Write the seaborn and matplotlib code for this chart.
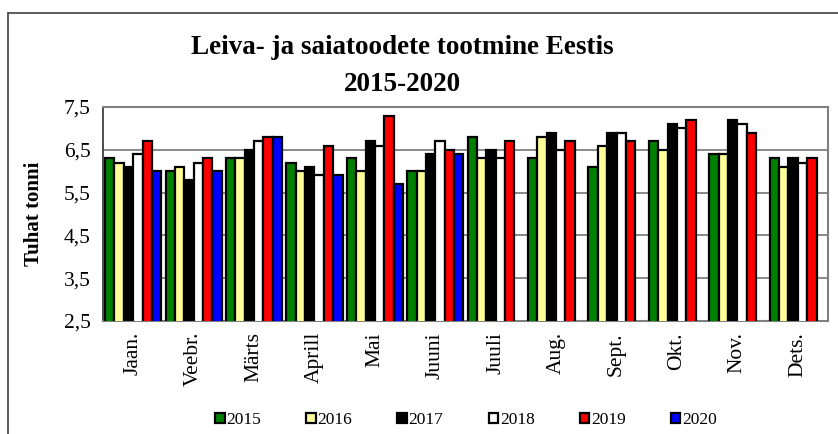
import matplotlib
matplotlib.use("Agg")
import matplotlib.pyplot as plt
from matplotlib.lines import Line2D
from matplotlib.ticker import FixedLocator, FuncFormatter
import numpy as np
import pandas as pd
import seaborn as sns

months = ["Jaan.", "Veebr.", "Märts", "Aprill", "Mai", "Juuni", "Juuli",
          "Aug.", "Sept.", "Okt.", "Nov.", "Dets."]
years = ["2015", "2016", "2017", "2018", "2019", "2020"]
v2015 = [6.3, 6.0, 6.3, 6.2, 6.3, 6.0, 6.8, 6.3, 6.1, 6.7, 6.4, 6.3]
v2016 = [6.2, 6.1, 6.3, 6.0, 6.0, 6.0, 6.3, 6.8, 6.6, 6.5, 6.4, 6.1]
v2017 = [6.1, 5.8, 6.5, 6.1, 6.7, 6.4, 6.5, 6.9, 6.9, 7.1, 7.2, 6.3]
v2018 = [6.4, 6.2, 6.7, 5.9, 6.6, 6.7, 6.3, 6.5, 6.9, 7.0, 7.1, 6.2]
v2019 = [6.7, 6.3, 6.8, 6.6, 7.3, 6.5, 6.7, 6.7, 6.7, 7.2, 6.9, 6.3]
v2020 = [6.0, 6.0, 6.8, 5.9, 5.7, 6.4, None, None, None, None, None, None]
colors = ["#008000", "#FFFF99", "#000000", "#FFFFFF", "#FF0000", "#0000FF"]

title = "Leiva- ja saiatoodete tootmine Eestis\n2015-2020"
ylabel = "Tuhat tonni"
yticks = [2.5, 3.5, 4.5, 5.5, 6.5, 7.5]

series = [v2015, v2016, v2017, v2018, v2019, v2020]
rows = []
for y, vals in zip(years, series):
    for m, v in zip(months, vals):
        rows.append({"month": m, "year": y, "value": np.nan if v is None else v})
df = pd.DataFrame(rows)

sns.set_style("white")
plt.rcParams["font.family"] = ["Liberation Serif", "DejaVu Serif"]
plt.rcParams["text.color"] = "black"
plt.rcParams["axes.labelcolor"] = "black"
plt.rcParams["xtick.color"] = "black"
plt.rcParams["ytick.color"] = "black"

fig = plt.figure(figsize=(8.38, 4.34), dpi=100)
ax = fig.add_axes([103/838, 1-321/434, (828-103)/838, (321-107)/434])

sns.barplot(data=df, x="month", y="value", hue="year", order=months,
            hue_order=years, palette=colors, edgecolor="black", linewidth=1.6,
            width=0.93, saturation=1, ax=ax, zorder=3)

ax.set_ylim(2.5, 7.5)
ax.set_xlim(-0.5, len(months) - 0.5)
ax.yaxis.set_major_locator(FixedLocator(yticks))
ax.yaxis.set_major_formatter(FuncFormatter(lambda v, p: f"{v:.1f}".replace(".", ",")))
ax.grid(axis="y", color="#808080", linewidth=1.3, zorder=0)
ax.set_axisbelow(True)

ax.set_xticks(range(len(months)))
ax.set_xticklabels(months, rotation=90, fontsize=15.5)
ax.tick_params(axis="x", which="major", length=0, pad=8)
ax.set_xticks(np.arange(-0.5, len(months)), minor=True)
ax.tick_params(axis="x", which="minor", length=5, width=1, color="black", direction="out")
ax.tick_params(axis="y", length=5, width=1, color="black", direction="out", labelsize=15.5, pad=4)

ax.set_xlabel("")
ax.set_ylabel(ylabel, fontsize=15, fontweight="bold", labelpad=14)

for s in ["top", "right", "bottom"]:
    ax.spines[s].set_color("#808080")
    ax.spines[s].set_linewidth(1.5)
ax.spines["left"].set_color("#404040")
ax.spines["left"].set_linewidth(1.3)

fig.text(402/838, 1-66/434, title, ha="center", va="center", fontsize=19.5,
         fontweight="bold", linespacing=1.65, color="black")

handles, labels = ax.get_legend_handles_labels()
ax.get_legend().remove()
fig.legend(handles, labels, loc="center", bbox_to_anchor=(466/838, 1-420/434),
           ncol=6, frameon=False, fontsize=12.5, handlelength=0.55, handleheight=0.55,
           handletextpad=0.1, columnspacing=2.6, borderaxespad=0)

fig.add_artist(Line2D([8/838, 1], [1-13/434, 1-13/434], color="#404040", linewidth=1.2,
                      transform=fig.transFigure))
fig.add_artist(Line2D([8/838, 8/838], [0, 1-13/434], color="#404040", linewidth=1.2,
                      transform=fig.transFigure))

fig.savefig("out.png", dpi=100)
